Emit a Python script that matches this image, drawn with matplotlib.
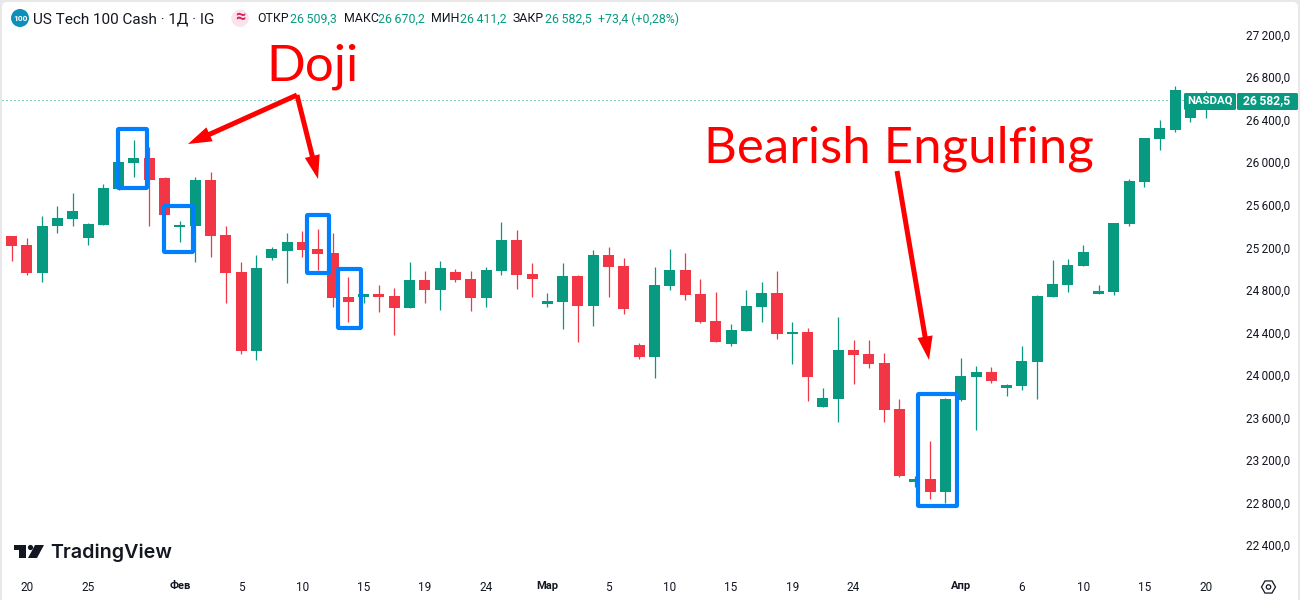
import matplotlib
matplotlib.use("Agg")
import matplotlib.pyplot as plt
from matplotlib.patches import FancyBboxPatch, FancyArrowPatch, Circle, Polygon, RegularPolygon

plt.rcParams['font.family'] = ['Roboto', 'DejaVu Sans']

opens = [25307,25222,24959,25401,25466,25288,25410,25748,25993,26040,25852,25391,25401,25833,25316,24968,24226,25100,25166,25250,25184,
         25147,24733,24733,24761,24743,24630,24893,24799,24968,24902,24724,24978,25269,24949,24667,24686,24931,24649,25128,25025,24282,
         24169,24837,24987,24761,24508,24291,24414,24639,24771,24385,24404,23699,23775,24235,24197,24113,23680,22994,23022,22900,23765,
         23981,24028,23878,23897,24122,24733,24846,25025,24761,24780,25419,25814,26218,26303,26416,26509.3]
highs = [25307,25288,25495,25589,25711,25429,25795,26021,26209,26143,25861,25448,25861,25908,25401,25062,25128,25203,25335,25354,25372,
         25335,24921,24761,24846,24818,25062,24978,25072,24996,24978,25015,25438,25363,25053,24771,25053,24940,25175,25203,25100,24301,
         25015,25184,25147,24902,24780,24479,24799,24874,24978,24498,24442,23878,24545,24329,24329,24207,23775,23051,23380,23784,24160,
         24085,24075,23915,24273,24752,25081,25090,25222,24846,25429,25842,26228,26397,26717,26560,26670.2]
lows = [25072,24940,24874,25335,25401,25222,25410,25739,25861,25401,25495,25250,25062,25109,24677,24197,24141,25081,24865,25109,24987,
        24639,24498,24677,24592,24376,24630,24677,24611,24874,24602,24639,24940,24808,24733,24639,24432,24310,24461,24733,24573,24150,
        23972,24799,24705,24489,24310,24273,24414,24498,24338,24103,23756,23699,23558,23915,24066,23558,23041,22947,22834,22797,23756,
        23483,23925,23803,23859,23775,24733,24780,25025,24761,24752,25401,25767,26115,26284,26378,26411.2]
closes = [25213,24959,25401,25476,25542,25419,25758,26002,26040,25833,25504,25410,25833,25307,24959,24226,25006,25184,25250,25175,25137,
          24724,24686,24761,24733,24630,24893,24799,25006,24893,24724,24987,25269,24940,24902,24696,24931,24649,25128,25015,24620,24169,
          24846,24987,24752,24498,24310,24423,24649,24771,24385,24404,23981,23784,24235,24188,24103,23671,23051,23022,22900,23775,23991,
          24028,23944,23906,24132,24743,24855,25034,25156,24790,25429,25824,26228,26322,26679,26509,26582.5]

price_ticks = [27200,26800,26400,26000,25600,25200,24800,24400,24000,23600,23200,22800,22400]
price_labels = ['27\u2009200,0','26\u2009800,0','26\u2009400,0','26\u2009000,0','25\u2009600,0','25\u2009200,0','24\u2009800,0',
                '24\u2009400,0','24\u2009000,0','23\u2009600,0','23\u2009200,0','22\u2009800,0','22\u2009400,0']
date_ticks = [1,5,11,15,19,23,27,31,35,39,43,47,51,55,62,66,70,74,78]
date_labels = ['20','25','Фев','5','10','15','19','24','Мар','5','10','15','19','24','Апр','6','10','15','20']
last_close = closes[-1]

GREEN = '#089981'
RED = '#F23645'
TXT = '#131722'
BLUE = '#0080FF'

fig = plt.figure(figsize=(13, 6), dpi=100, facecolor='#E8E8E8')
W, H = 1300, 600

bg = fig.add_axes([0, 0, 1, 1], facecolor='none', zorder=-1)
bg.set_xlim(0, W)
bg.set_ylim(H, 0)
bg.axis('off')
bg.add_patch(FancyBboxPatch((2, 2), 1296, 620, boxstyle='round,pad=0,rounding_size=5', fc='white', lw=0))

ax = fig.add_axes([2/W, 30/H, 1238/W, 570/H], facecolor='none')
ax.set_xlim((2-11.5)/15.31, (1240-11.5)/15.31)
ax.set_ylim(27525-9.4*570, 27525)
for s in ax.spines.values():
    s.set_visible(False)

xs = list(range(len(opens)))
colors = [GREEN if c >= o else RED for o, c in zip(opens, closes)]
ax.vlines(xs, lows, highs, colors=colors, linewidth=0.9, zorder=2)
ax.bar(xs, [abs(c-o) for o, c in zip(opens, closes)], bottom=[min(o, c) for o, c in zip(opens, closes)],
       width=0.72, color=colors, linewidth=0, zorder=3)
ax.axhline(last_close, color=GREEN, linewidth=0.72, linestyle=(0, (1, 3)), zorder=1)

ax.yaxis.tick_right()
ax.set_yticks(price_ticks, price_labels)
ax.set_xticks(date_ticks, date_labels)
ax.tick_params(axis='both', length=0, labelcolor=TXT, labelsize=8.5)
ax.tick_params(axis='y', pad=4)
ax.tick_params(axis='x', pad=8)
for t, s in zip(ax.get_xticklabels(), date_labels):
    if s in ('Фев', 'Мар', 'Апр'):
        t.set_fontweight('bold')
        t.set_fontsize(8)

# overlay in figure pixels
ov = fig.add_axes([0, 0, 1, 1], facecolor='none')
ov.set_xlim(0, W)
ov.set_ylim(H, 0)
ov.axis('off')

# highlight boxes
for x0, y0, x1, y1 in [(118,129,147,188),(164,206,193,252),(307,215,329,273),(338,269,361,328),(918,394,957,506)]:
    ov.add_patch(FancyBboxPatch((x0, y0), x1-x0, y1-y0, boxstyle='round,pad=0,rounding_size=1',
                                fc='none', ec=BLUE, lw=3.0, zorder=5))

# arrows
style = 'simple,head_length=17,head_width=11,tail_width=3.6'
for a, b in [((297,95),(188,144)),((297,95),(318,179)),((897,171),(929,360))]:
    ov.add_patch(FancyArrowPatch(a, b, arrowstyle=style, color='#FF0000', lw=0, shrinkA=0, shrinkB=0, mutation_scale=1, zorder=6))

ov.text(266.5, 67, 'Doji', color='#FF0000', fontsize=36.7, family='Lato', va='center', ha='left', zorder=6)
ov.text(704.5, 149, 'Bearish Engulfing', color='#FF0000', fontsize=36.7, family='Lato', va='center', ha='left', zorder=6)

# header
ov.add_patch(Circle((20, 18), 9, fc='#0C8FB8', lw=0))
ov.text(20, 18.5, '100', color='white', fontsize=6, weight='bold', ha='center', va='center')
ov.text(33, 19, 'US Tech 100 Cash · 1Д · IG', color=TXT, fontsize=11, ha='left', va='center')
ov.add_patch(Circle((240, 18.3), 8.7, fc='#FBE3EA', lw=0))
ov.text(240, 17.5, '≈', color='#D81B60', fontsize=13, weight='bold', ha='center', va='center')
header = [(257,'ОТКР',TXT),(290,'26\u2009509,3',GREEN),(344,'МАКС',TXT),(378,'26\u2009670,2',GREEN),(431,'МИН',TXT),
          (460,'26\u2009411,2',GREEN),(513,'ЗАКР',TXT),(545,'26\u2009582,5',GREEN),(598,'+73,4 (+0,28%)',GREEN)]
for x, s, c in header:
    ov.text(x, 19, s, color=c, fontsize=8.9, ha='left', va='center')

# price labels
ov.add_patch(FancyBboxPatch((1184, 93), 52, 17, boxstyle='round,pad=0,rounding_size=1.5', fc=GREEN, lw=0, zorder=7))
ov.add_patch(FancyBboxPatch((1237, 93), 61, 17, boxstyle='round,pad=0,rounding_size=1.5', fc=GREEN, lw=0, zorder=7))
ov.text(1210.5, 101, 'NASDAQ', color='white', fontsize=8.2, weight='bold', ha='center', va='center', zorder=8)
ov.text(1267, 101, '26\u2009582,5', color='white', fontsize=8.7, weight='bold', ha='center', va='center', zorder=8)

# logo
LOGO = '#131722'
ov.add_patch(Polygon([(14,545),(26,545),(26,558),(19,558),(19,550),(14,550)], fc=LOGO, lw=0))
ov.add_patch(Circle((30.5, 547.5), 2.6, fc=LOGO, lw=0))
ov.add_patch(Polygon([(35,545),(44,545),(37,558),(28,558)], fc=LOGO, lw=0))
ov.text(50, 552.5, 'TradingView', color=LOGO, fontsize=14.2, family='Inter', weight='semibold', ha='left', va='center')

# settings icon
ov.add_patch(RegularPolygon((1268.5, 587), 6, radius=7, orientation=0.5236, fc='none', ec=TXT, lw=0.9))
ov.add_patch(Circle((1268.5, 587), 2.2, fc='none', ec=TXT, lw=0.9))

fig.savefig('out.png', dpi=100, facecolor=fig.get_facecolor())
